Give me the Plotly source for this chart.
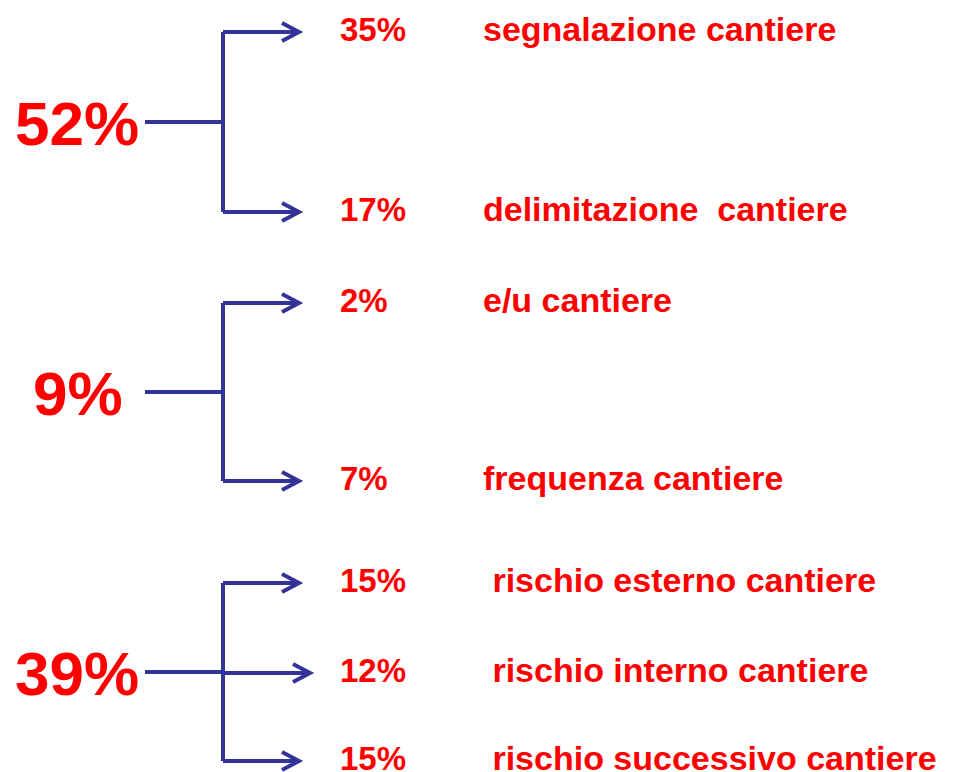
import plotly.graph_objects as go

# ---- data ----
group_totals = [52, 9, 39]
sub_values = [[35, 17], [2, 7], [15, 12, 15]]
sub_labels = [
    ["segnalazione cantiere", "delimitazione\u00a0\u00a0cantiere"],
    ["e/u cantiere", "frequenza cantiere"],
    ["\u00a0rischio esterno cantiere", "\u00a0rischio interno cantiere", "\u00a0rischio successivo cantiere"],
]

# ---- layout constants (pixels) ----
W, H = 957, 772
RED = "#FF0000"
NAVY = "#333399"
FONT = "Liberation Sans, Arial, sans-serif"
row_y = [[32, 212], [303, 481], [583, 673, 761]]
big_center_x = [77, 78, 77]
stem_x0, bracket_x, arrow_tip = 145, 223, 299
mid_tip = 310
pct_x, label_x = 338, 481

fig = go.Figure()
shapes = []
annotations = []
line = dict(color=NAVY, width=4)

def arrowhead(xt, y):
    return dict(type="path", path=f"M {xt-17} {y-9} L {xt} {y} L {xt-17} {y+9}",
                line=line, layer="above")

for g, total in enumerate(group_totals):
    ys = row_y[g]
    ymid = (ys[0] + ys[-1]) / 2
    annotations.append(dict(x=big_center_x[g], y=ymid + 1, text=f"<b>{total}%</b>", showarrow=False,
                            xanchor="center", yanchor="middle",
                            font=dict(family=FONT, size=62, color=RED)))
    shapes.append(dict(type="line", x0=stem_x0, x1=bracket_x, y0=ymid, y1=ymid, line=line))
    shapes.append(dict(type="line", x0=bracket_x, x1=bracket_x, y0=ys[0], y1=ys[-1], line=line))
    for i, (v, lab) in enumerate(zip(sub_values[g], sub_labels[g])):
        y = ys[i]
        tip = mid_tip if (len(ys) == 3 and i == 1) else arrow_tip
        shapes.append(dict(type="line", x0=bracket_x, x1=tip - 2, y0=y, y1=y, line=line))
        shapes.append(arrowhead(tip, y))
        annotations.append(dict(x=pct_x, y=y - 3, text=f"<b>{v}%</b>", showarrow=False,
                                xanchor="left", yanchor="middle",
                                font=dict(family=FONT, size=33, color=RED)))
        annotations.append(dict(x=label_x, y=y - 3, text=f"<b>{lab}</b>", showarrow=False,
                                xanchor="left", yanchor="middle",
                                font=dict(family=FONT, size=34, color=RED)))

fig.update_layout(
    width=W, height=H,
    margin=dict(l=0, r=0, t=0, b=0),
    paper_bgcolor="white", plot_bgcolor="white",
    xaxis=dict(range=[0, W], visible=False, fixedrange=True),
    yaxis=dict(range=[H, 0], visible=False, fixedrange=True),
    shapes=shapes, annotations=annotations, showlegend=False,
)
fig.write_html("out.html", config={"displayModeBar": False},
               post_script="document.body.style.margin='0';document.body.style.overflow='hidden';")
